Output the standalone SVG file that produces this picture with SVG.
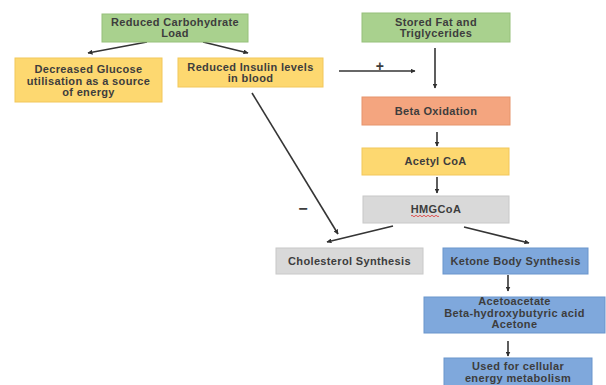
<svg xmlns="http://www.w3.org/2000/svg" width="606" height="385" viewBox="0 0 606 385">
<defs>
<marker id="ah" viewBox="0 0 10 10" refX="9" refY="5" markerWidth="5" markerHeight="5" orient="auto" markerUnits="userSpaceOnUse">
<path d="M0,0 L10,5 L0,10 z" fill="#303030"/>
</marker>
<style>
.box{stroke-width:1}
.green{fill:#a9d18e;stroke:#96c07a}
.yellow{fill:#fdd870;stroke:#f2c75a}
.orange{fill:#f4a57f;stroke:#e6946c}
.gray{fill:#d9d9d9;stroke:#c8c8c8}
.blue{fill:#7fa8dc;stroke:#6a95cc}
text{font-family:"Liberation Sans",Arial,sans-serif;font-weight:bold;font-size:11px;letter-spacing:0.35px;fill:#3d3d3d;text-anchor:middle}
.conn{stroke:#353535;stroke-width:1.6;fill:none;marker-end:url(#ah)}
</style>
</defs>
<rect width="606" height="385" fill="#ffffff"/>
<g id="connectors">
<line class="conn" x1="147" y1="42" x2="88" y2="53"/>
<line class="conn" x1="203" y1="42" x2="248" y2="53"/>
<line class="conn" x1="339" y1="71" x2="415" y2="71"/>
<line class="conn" x1="435" y1="48" x2="435" y2="88"/>
<line class="conn" x1="437" y1="132" x2="437" y2="146"/>
<line class="conn" x1="437" y1="177" x2="437" y2="193"/>
<line class="conn" x1="252" y1="93" x2="338" y2="234"/>
<line class="conn" x1="393" y1="226" x2="327" y2="242"/>
<line class="conn" x1="464" y1="227" x2="529" y2="243"/>
<line class="conn" x1="508" y1="275" x2="508" y2="291"/>
<line class="conn" x1="508" y1="341" x2="508" y2="356"/>
<text x="380" y="70.5" style="font-size:14px">+</text>
<text x="303" y="214" style="font-size:16px">−</text>
</g>
<g id="carb">
<rect class="box green" x="102" y="14" width="146" height="28"/>
<text x="175" y="25.5">Reduced Carbohydrate</text>
<text x="175" y="37">Load</text>
</g>
<g id="glucose">
<rect class="box yellow" x="15" y="58" width="147" height="44"/>
<text x="88.5" y="73">Decreased Glucose</text>
<text x="88.5" y="84.5">utilisation as a source</text>
<text x="88.5" y="96">of energy</text>
</g>
<g id="insulin">
<rect class="box yellow" x="178" y="58" width="145" height="29"/>
<text x="250.5" y="70.5">Reduced Insulin levels</text>
<text x="250.5" y="82">in blood</text>
</g>
<g id="fat">
<rect class="box green" x="362" y="13" width="148" height="29"/>
<text x="436" y="25.5">Stored Fat and</text>
<text x="436" y="37">Triglycerides</text>
</g>
<g id="beta">
<rect class="box orange" x="362" y="97" width="148" height="28"/>
<text x="436" y="115">Beta Oxidation</text>
</g>
<g id="acetyl">
<rect class="box yellow" x="362" y="148" width="147" height="27"/>
<text x="435.5" y="165">Acetyl CoA</text>
</g>
<g id="hmgcoa">
<rect class="box gray" x="363" y="196" width="146" height="27"/>
<text x="436" y="213">HMGCoA</text>
<path d="M411,216 q1,-1.5 2,0 t2,0 t2,0 t2,0 t2,0 t2,0 t2,0 t2,0 t2,0 t2,0 t2,0 t2,0 t2,0 t2,0" stroke="#e03030" stroke-width="0.8" fill="none"/>
</g>
<g id="cholesterol">
<rect class="box gray" x="276" y="248" width="147" height="26"/>
<text x="349.5" y="265">Cholesterol Synthesis</text>
</g>
<g id="ketone">
<rect class="box blue" x="443" y="248" width="145" height="26"/>
<text x="515.5" y="265">Ketone Body Synthesis</text>
</g>
<g id="bodies">
<rect class="box blue" x="424" y="297" width="181" height="36"/>
<text x="514.5" y="305">Acetoacetate</text>
<text x="514.5" y="316.5">Beta-hydroxybutyric acid</text>
<text x="514.5" y="328">Acetone</text>
</g>
<g id="used">
<rect class="box blue" x="444" y="358" width="148" height="30"/>
<text x="518" y="370">Used for cellular</text>
<text x="518" y="381.5">energy metabolism</text>
</g>
</svg>
